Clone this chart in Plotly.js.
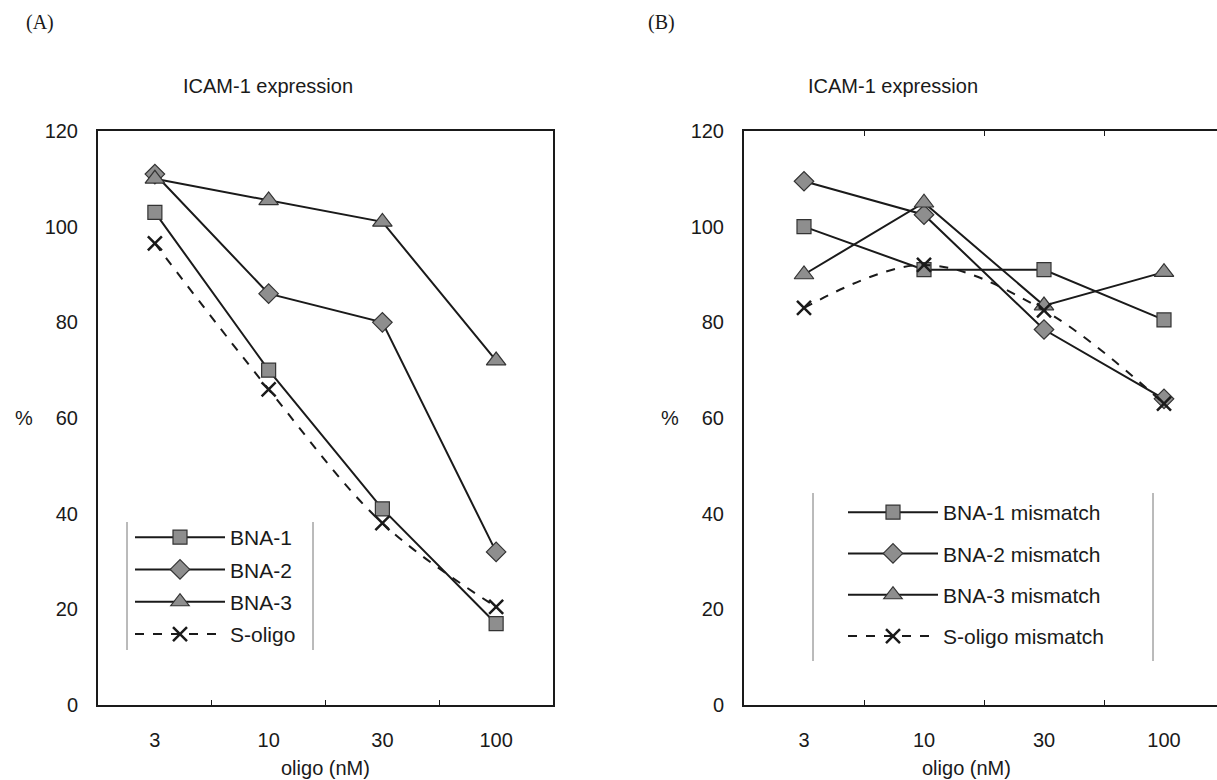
<!DOCTYPE html>
<html><head><meta charset="utf-8">
<script src="https://cdn.plot.ly/plotly-3.0.1.min.js"></script>
<style>html,body{margin:0;padding:0;background:#fff}#chart{width:1217px;height:780px}</style>
</head><body><div id="chart"></div>
<script>
// Categories (oligo concentration, nM)
const concentrations = ['3', '10', '30', '100'];

// Panel A: ICAM-1 expression (%)
const namesA = ['BNA-1', 'BNA-2', 'BNA-3', 'S-oligo'];
const bna1 = [103, 70, 41, 17];
const bna2 = [111, 86, 80, 32];
const bna3 = [110, 105.5, 101, 72];
const soligo = [96.5, 66, 38, 20.5];

// Panel B: ICAM-1 expression (%), mismatch controls
const namesB = ['BNA-1 mismatch', 'BNA-2 mismatch', 'BNA-3 mismatch', 'S-oligo mismatch'];
const bna1mm = [100, 91, 91, 80.5];
const bna2mm = [109.5, 102.5, 78.5, 64];
const bna3mm = [90, 105, 83.5, 90.5];
const soligomm = [83, 92, 82.5, 63];

const yTickVals = [0, 20, 40, 60, 80, 100, 120];

const W = 1217, H = 780;
const px = x => x / W;
const py = y => (H - y) / H;

const FONT = "'Liberation Sans', Arial, Helvetica, sans-serif";
const SERIF = "'Liberation Serif', 'Times New Roman', serif";
const INK = '#1a1a1a';
const FILL = '#8e8e8e';

const symbols = ['square', 'diamond', 'triangle-up', 'x-thin'];
const sizes = [14, 15, 17, 14];

function mk(x, y, name, i, xa, ya, leg) {
  const isX = symbols[i] === 'x-thin';
  return {
    type: 'scatter', mode: 'lines+markers', x: x, y: y, name: name,
    xaxis: xa, yaxis: ya, legend: leg, legendgroup: leg + i,
    line: { color: INK, width: 2, dash: isX ? 'dash' : 'solid', shape: isX ? 'spline' : 'linear', smoothing: 1 },
    marker: {
      symbol: symbols[i], size: sizes[i],
      color: isX ? INK : FILL,
      line: { color: isX ? INK : '#333', width: isX ? 2.5 : 1.2 }
    },
    cliponaxis: false
  };
}

const seriesA = [bna1, bna2, bna3, soligo];
const seriesB = [bna1mm, bna2mm, bna3mm, soligomm];
const data = [];
seriesA.forEach((s, i) => data.push(mk(concentrations, s, namesA[i], i, 'x', 'y', 'legend')));
seriesB.forEach((s, i) => data.push(mk(concentrations, s, namesB[i], i, 'x2', 'y2', 'legend2')));

const catW_B = 120;
const axisX = (domain, range, mirror) => ({
  domain: domain, type: 'category', range: range,
  showline: true, linecolor: INK, linewidth: 2, mirror: mirror,
  ticks: 'inside', tickson: 'boundaries', ticklen: 5, tickcolor: INK, tickwidth: 1,
  showgrid: false, zeroline: false,
  tickfont: { family: FONT, size: 20, color: INK },
  ticklabelstandoff: 16, fixedrange: true
});
const axisY = (domain, anchor, mirror) => ({
  domain: domain, anchor: anchor, range: [0, 120],
  tickvals: yTickVals, ticks: '',
  showline: true, linecolor: INK, linewidth: 2, mirror: mirror,
  showgrid: false, zeroline: false,
  tickfont: { family: FONT, size: 20, color: INK },
  ticklabelstandoff: 14, fixedrange: true
});

const yDom = [py(705), py(131)];
const legendCommon = {
  bgcolor: 'rgba(0,0,0,0)', borderwidth: 0, xanchor: 'left', yanchor: 'top',
  font: { family: FONT, size: 21, color: INK }, itemwidth: 90, traceorder: 'grouped',
  itemclick: false, itemdoubleclick: false
};

function ann(text, x, y, font) {
  return { text: text, x: px(x), y: py(y), xref: 'paper', yref: 'paper', xanchor: 'center', yanchor: 'middle', showarrow: false, font: font };
}
const fSans = { family: FONT, size: 20, color: INK };
const fSerif = { family: SERIF, size: 20, color: INK };

const layout = {
  width: W, height: H, margin: { l: 0, r: 0, t: 0, b: 0 },
  paper_bgcolor: '#fff', plot_bgcolor: '#fff', showlegend: true,
  xaxis: Object.assign(axisX([px(98), px(553)], [-0.5, 3.5], true), { anchor: 'y' }),
  yaxis: axisY(yDom, 'x', true),
  xaxis2: Object.assign(axisX([px(744), 1], [-0.5, -0.5 + (W - 744) / catW_B], 'allticks'), { anchor: 'y2' }),
  yaxis2: axisY(yDom, 'x2', false),
  legend: Object.assign({}, legendCommon, { x: px(130), y: py(517), tracegroupgap: 2 }),
  legend2: Object.assign({}, legendCommon, { x: px(843), y: py(492), tracegroupgap: 11 }),
  shapes: [
    { type: 'line', xref: 'paper', yref: 'paper', x0: px(127), x1: px(127), y0: py(522), y1: py(650), line: { color: '#777', width: 1 } },
    { type: 'line', xref: 'paper', yref: 'paper', x0: px(313), x1: px(313), y0: py(522), y1: py(650), line: { color: '#777', width: 1 } },
    { type: 'line', xref: 'paper', yref: 'paper', x0: px(813), x1: px(813), y0: py(493), y1: py(661), line: { color: '#777', width: 1 } },
    { type: 'line', xref: 'paper', yref: 'paper', x0: px(1153), x1: px(1153), y0: py(493), y1: py(661), line: { color: '#777', width: 1 } }
  ],
  annotations: [
    ann('(A)', 40, 22, fSerif),
    ann('(B)', 661, 22, fSerif),
    ann('ICAM-1 expression', 268, 86, fSans),
    ann('ICAM-1 expression', 893, 86, fSans),
    ann('%', 24, 418, fSans),
    ann('%', 670, 418, fSans),
    ann('oligo (nM)', 325, 768, fSans),
    ann('oligo (nM)', 966, 768, fSans)
  ]
};

Plotly.newPlot('chart', data, layout, { staticPlot: true, displayModeBar: false });
</script>
</body></html>
